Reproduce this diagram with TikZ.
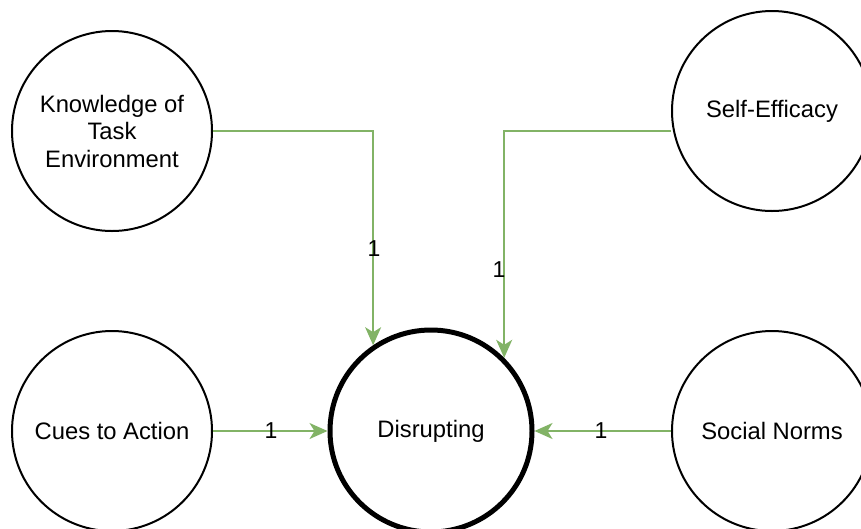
\documentclass[tikz,border=0pt]{standalone}
\usepackage{fontspec}
\setmainfont{Liberation Sans}
\usetikzlibrary{arrows.meta}
\definecolor{linkgreen}{HTML}{82B366}
\begin{document}
\begin{tikzpicture}[x=1pt,y=-1pt,
  factor/.style={circle,draw=black,line width=2pt,minimum size=200pt,inner sep=0pt,
    align=center,font=\fontsize{23.8}{27.5}\selectfont},
  outcome/.style={factor,line width=5pt,minimum size=202pt},
  link/.style={draw=linkgreen,line width=1.8pt,
    -{Stealth[length=18pt,width=16pt,inset=5pt]}},
  weight/.style={font=\fontsize{23}{24}\selectfont,inner sep=0pt}]
\clip (0,0) rectangle (861,528);

% factors and the outcome they point to
\node[factor] (k) at (112,131) {Knowledge of\\Task\\Environment};
\node[factor] (s) at (772,111) {Self-Efficacy};
\node[factor] (c) at (112,431) {Cues to Action};
\node[factor] (n) at (772,431) {Social Norms};
\node[outcome] (d) at (431,431) {Disrupting};

% weighted links
\draw[link] (k.east) -| (d.124.75);
\draw[link] (s.west |- 0,131) -| (d.45.1);
\draw[link] (c.east) -- (d.west);
\draw[link] (n.west) -- (d.east);

% link weights
\node[weight] (w1) at (374,249) {1};
\node[weight] (w2) at (499,270) {1};
\node[weight] (w3) at (271,431) {1};
\node[weight] (w4) at (601,431) {1};
\end{tikzpicture}
\end{document}
